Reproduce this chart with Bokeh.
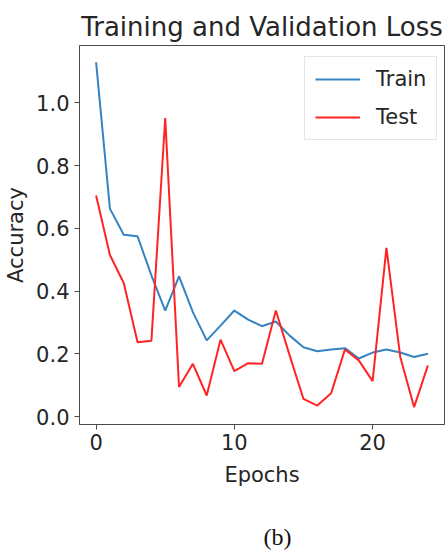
from bokeh.plotting import figure
from bokeh.models import Range1d, FixedTicker, Legend, LegendItem, Title
from bokeh.embed import file_html
from bokeh.resources import INLINE

epochs = list(range(25))
train_loss = [1.13, 0.663, 0.58, 0.575, 0.45, 0.338, 0.447, 0.333, 0.243, 0.29,
              0.338, 0.309, 0.288, 0.303, 0.258, 0.221, 0.208, 0.214, 0.218, 0.185,
              0.204, 0.214, 0.204, 0.19, 0.2]
test_loss = [0.705, 0.515, 0.426, 0.237, 0.242, 0.952, 0.094, 0.168, 0.067, 0.245,
             0.145, 0.17, 0.168, 0.338, 0.195, 0.056, 0.035, 0.074, 0.214, 0.179,
             0.113, 0.538, 0.19, 0.03, 0.163]
x_ticks = [0, 10, 20]
y_ticks = [0.0, 0.2, 0.4, 0.6, 0.8, 1.0]
y_tick_labels = ["0.0", "0.2", "0.4", "0.6", "0.8", "1.0"]
title_text = "Training and Validation Loss"
x_label = "Epochs"
y_label = "Accuracy"
series_names = ["Train", "Test"]
caption = "(b)"

FONT = "DejaVu Sans"
TXT = "#262626"
AX = "#4a4a4a"

p = figure(width=445, height=556, output_backend="svg", toolbar_location=None,
           x_range=Range1d(-1.2, 25.2), y_range=Range1d(-0.0255, 1.1834),
           min_border_left=79, min_border_top=45, min_border_right=1,
           min_border_bottom=132)

p.title.text = title_text
p.title.text_font = FONT
p.title.text_font_size = "26px"
p.title.text_font_style = "normal"
p.title.text_color = TXT
p.title.align = "center"
p.title.standoff = 7

p.xgrid.visible = False
p.ygrid.visible = False
p.outline_line_color = AX
p.outline_line_width = 1

for ax in (p.xaxis, p.yaxis):
    ax.axis_line_color = AX
    ax.major_tick_line_color = AX
    ax.minor_tick_line_color = None
    ax.major_tick_out = 5
    ax.major_tick_in = 0
    ax.major_label_text_font = FONT
    ax.major_label_text_font_size = "21px"
    ax.major_label_text_color = TXT
    ax.axis_label_text_font = FONT
    ax.axis_label_text_font_size = "21px"
    ax.axis_label_text_font_style = "normal"
    ax.axis_label_text_color = TXT

p.xaxis.ticker = FixedTicker(ticks=x_ticks)
p.yaxis.ticker = FixedTicker(ticks=y_ticks)
p.yaxis.major_label_overrides = {t: l for t, l in zip(y_ticks, y_tick_labels)}
p.xaxis.axis_label = x_label
p.yaxis.axis_label = y_label
p.xaxis.major_label_standoff = 4
p.yaxis.major_label_standoff = 5
p.xaxis.axis_label_standoff = 10
p.yaxis.axis_label_standoff = 5

r_train = p.line(epochs, train_loss, line_color="#3583c2", line_width=2)
r_test = p.line(epochs, test_loss, line_color="#ff2424", line_width=2)

legend = Legend(items=[LegendItem(label=series_names[0], renderers=[r_train]),
                       LegendItem(label=series_names[1], renderers=[r_test])],
                location=(225, 284), margin=0, padding=10, spacing=14,
                glyph_width=45, glyph_height=24, label_height=24,
                label_standoff=16,
                label_text_font=FONT, label_text_font_size="21px",
                label_text_color=TXT,
                border_line_color="#cccccc", border_line_width=1,
                background_fill_color="white", background_fill_alpha=0.8)
p.add_layout(legend)

# blank spacer between the x axis and the caption
spacer = Title(text=" ", text_font_size="1px", standoff=27)
p.add_layout(spacer, "below")

cap = Title(text=caption, align="left", offset=184, standoff=4,
            text_font="Liberation Serif", text_font_size="24px",
            text_font_style="normal", text_color="#111111")
p.add_layout(cap, "below")

open("out.html", "w").write(file_html(p, INLINE))
